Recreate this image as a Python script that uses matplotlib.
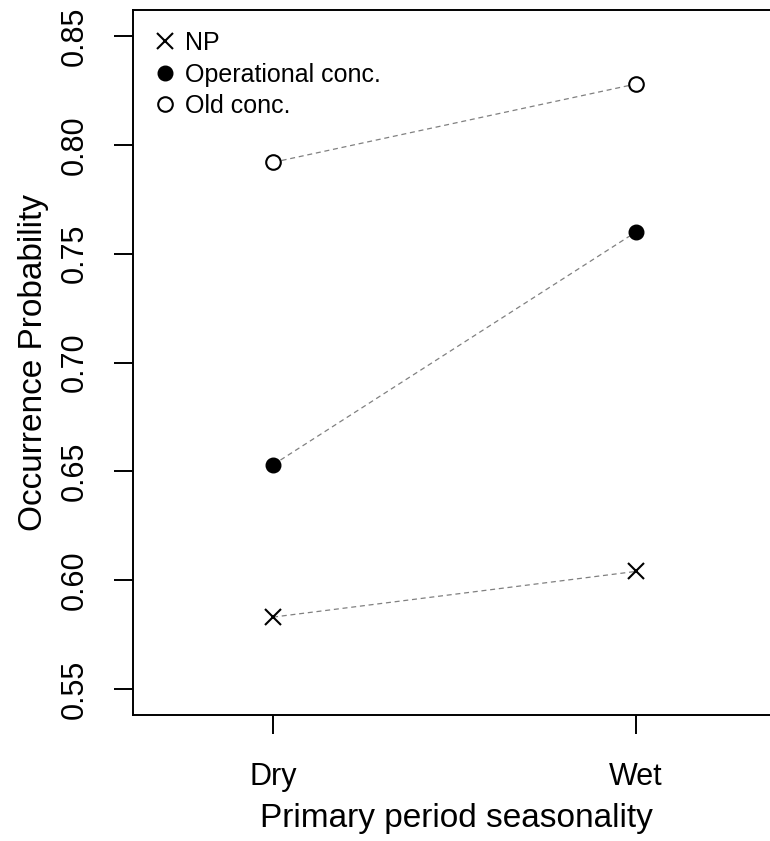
import numpy as np
import matplotlib
matplotlib.use("Agg")
import matplotlib.pyplot as plt

plt.rcParams['font.family'] = ['Liberation Sans', 'DejaVu Sans']

# data
seasons = ['Dry', 'Wet']
np_prob = [0.583, 0.604]
operational = [0.653, 0.760]
old_conc = [0.792, 0.828]
yticks = [0.55, 0.60, 0.65, 0.70, 0.75, 0.80, 0.85]

x = np.arange(1, len(seasons) + 1)

fig = plt.figure(figsize=(7.7, 8.41), dpi=100)
ax = fig.add_axes([0.1727, 0.1498, 0.8403, 0.8383])

# grey dashed connectors
for vals in (np_prob, operational, old_conc):
    ax.plot(x, vals, color='#808080', lw=0.9, ls=(0, (4, 3)), zorder=1)

h1, = ax.plot(x, np_prob, 'x', color='black', ms=11.5, mew=1.5, ls='none', zorder=3)
h2, = ax.plot(x, operational, 'o', color='black', ms=10.5, ls='none', zorder=3)
h3, = ax.plot(x, old_conc, 'o', mfc='white', mec='black', ms=10.5, mew=1.5, ls='none', zorder=3)

ax.set_xlim(0.614, 2.3967)
ax.set_ylim(0.538, 0.862)
ax.set_xticks(x)
ax.set_xticklabels(seasons)
ax.set_yticks(yticks)
ax.set_yticklabels([f'{v:.2f}' for v in yticks], rotation=90, va='center')

ax.tick_params(axis='both', labelsize=22, length=14, width=1.4, direction='out')
ax.tick_params(axis='x', pad=20)
ax.tick_params(axis='y', pad=17)
for s in ax.spines.values():
    s.set_linewidth(1.4)

ax.set_xlabel('Primary period seasonality', fontsize=24, labelpad=8)
ax.set_ylabel('Occurrence Probability', fontsize=24, labelpad=8)

ax.legend([h1, h2, h3], ['NP', 'Operational conc.', 'Old conc.'],
          loc='upper left', frameon=False, fontsize=18,
          handletextpad=0.2, labelspacing=0.3, borderaxespad=0.3,
          handlelength=1.2, bbox_to_anchor=(0.0, 0.995))

fig.savefig('out.png', dpi=100)
